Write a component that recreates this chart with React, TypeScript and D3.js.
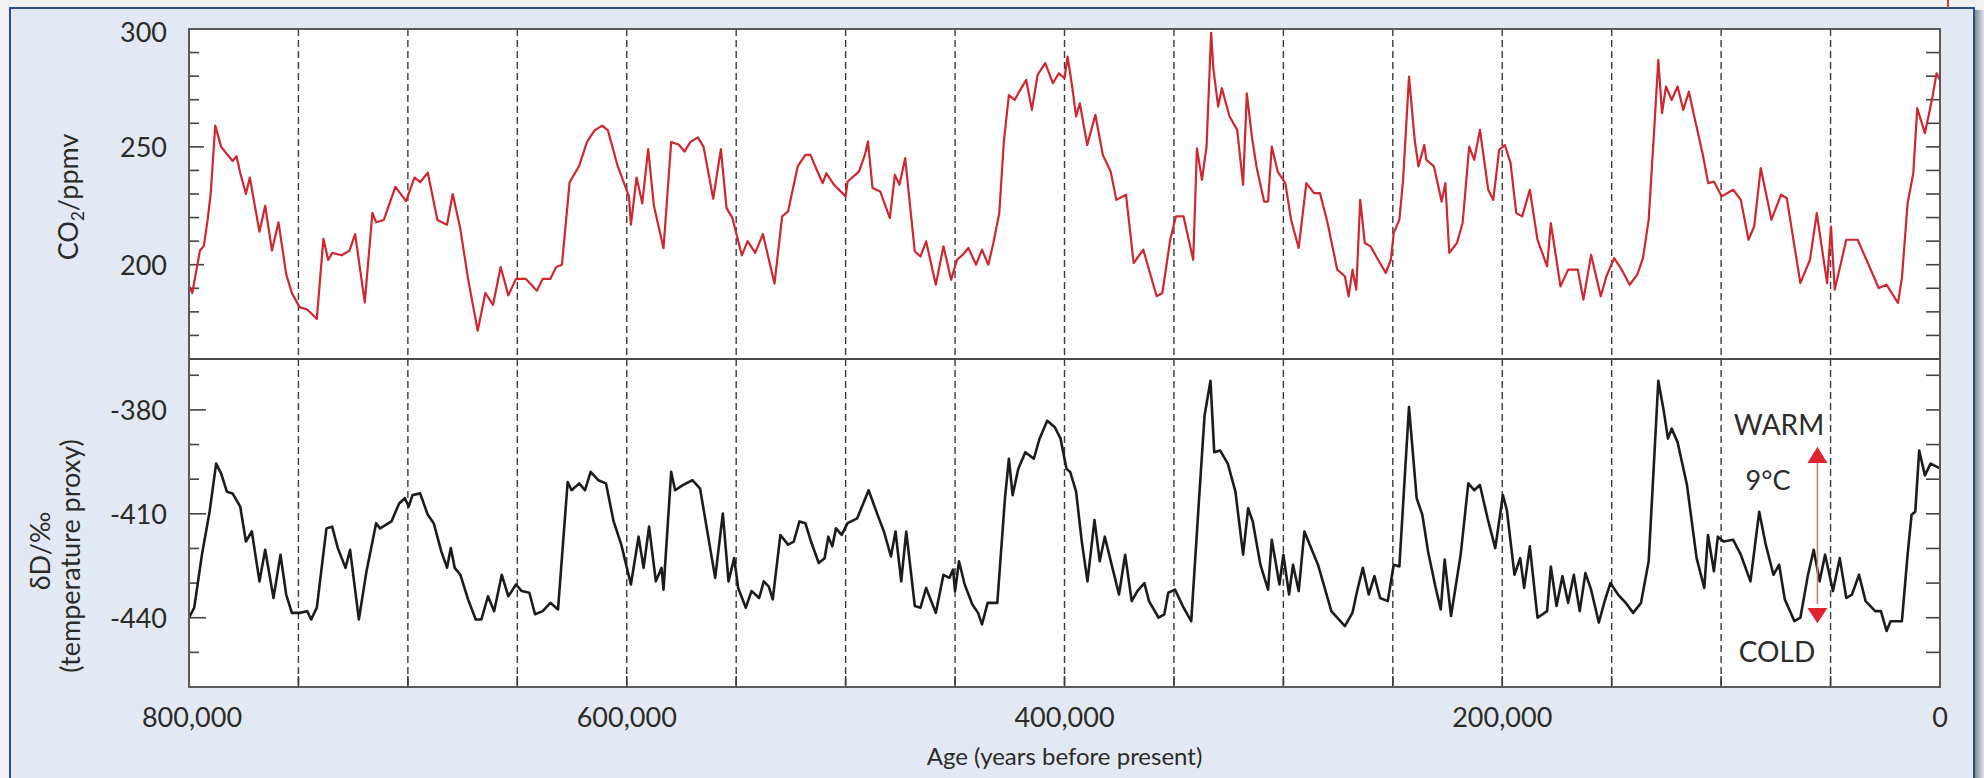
import React from 'react';
import * as d3 from 'd3';

// EPICA Dome C ice core: CO2 (ppmv) and deuterium (δD, ‰) over the last 800 kyr.
// Ages are in thousands of years before present.
const co2Series: [number, number][] = [
  [800, 191], [798.5, 188], [795, 206], [793.2, 208], [791.5, 219], [790.1, 230], [788, 259],
  [785.3, 250], [782.7, 247], [780.1, 244], [778.3, 246], [776.6, 239], [774, 230], [772.2, 237],
  [770.5, 228], [767.8, 214], [765.2, 225], [762.1, 206], [759.1, 218], [755.6, 196], [753, 188],
  [749.5, 182], [746, 181], [741.6, 177], [738.6, 211], [736.4, 202], [734.6, 205], [730.2, 204],
  [726.7, 206], [724.1, 213], [719.7, 184], [716.2, 222], [714.5, 218], [711, 219], [705.7, 233],
  [700.8, 227], [697, 237], [694.4, 235], [690.9, 239], [686.5, 219], [682.1, 217], [679.5, 230],
  [676, 215], [672.5, 194], [668.1, 172], [664.6, 188], [661.1, 183], [657.6, 199], [654.1, 187],
  [650.6, 194], [646.2, 194], [641, 189], [638.4, 194], [634.9, 194], [632.2, 199], [629.6, 200],
  [626.1, 235], [621.7, 242], [618.2, 252], [614.7, 257], [611.2, 259], [608.6, 257], [604.2, 242],
  [599, 229], [598.1, 217], [595.5, 237], [592.9, 226], [590.2, 249], [587.6, 225], [583.2, 207],
  [579.7, 252], [576.3, 251], [573.6, 248], [571, 252], [567.5, 254], [564.9, 250], [560.5, 228],
  [557, 249], [554.4, 224], [551.8, 220], [547.4, 204], [544.8, 210], [541.3, 205], [537.8, 213],
  [532.5, 192], [529, 220.5], [526.3, 222.6], [521.9, 241.7], [518.4, 246.6], [516.1, 246.6],
  [513.2, 240.3], [510.5, 234.6], [508.8, 238.8], [505.3, 233.9], [500, 229], [499.1, 235.3],
  [493.9, 239.5], [491.2, 246.6], [489.8, 252.3], [487.7, 232.5], [484.2, 231.1], [479.8, 219.8],
  [477.5, 238.1], [475.4, 233.9], [472.8, 245.2], [468.4, 205.6], [465.8, 203.5], [463.2, 209.9],
  [458.8, 191.5], [455.3, 207.8], [451.8, 193.6], [449.1, 202.1], [446.5, 204.2], [443.9, 207.1],
  [440.4, 200], [437.7, 206.4], [434.8, 200], [432.5, 209.2], [429.8, 221.9], [427.7, 252.3],
  [425.4, 272], [422.8, 269.9], [420.2, 274.2], [417.5, 278.4], [414.9, 265.7], [412.3, 280.5],
  [408.8, 285.5], [405.3, 277], [402.6, 281.2], [400, 279.1], [398.6, 288.3], [396.5, 275.6],
  [394.7, 262.9], [393, 268.5], [389.6, 250.8], [385.9, 263.6], [382.5, 246.6], [378.9, 239.5],
  [376.3, 227.5], [371.9, 229.7], [368.4, 200.7], [364, 206.4], [357.9, 186.6], [355.3, 188],
  [351.7, 210.6], [349.1, 220.5], [345.6, 220.5], [341.2, 202.1], [339.5, 249.4], [337.2, 236],
  [335.1, 250.1], [333, 298.4], [332, 283.3], [329.8, 267.1], [328.1, 274.9], [324.6, 262.9],
  [321.1, 257.2], [318.4, 233.9], [316.7, 272.7], [314.4, 254.4], [312.3, 241.7], [308.8, 226.8],
  [307, 226.8], [305.3, 250.1], [302.6, 239.5], [299.1, 234.6], [296.5, 219.1], [293, 207.1],
  [289.5, 234.6], [286, 230.4], [283.3, 230.4], [279.8, 217.7], [275.4, 197.9], [271.9, 195.1],
  [270.2, 186.6], [268.4, 197.9], [266.7, 189.4], [264.9, 227.5], [262.8, 209.2], [260.2, 207.8],
  [256.7, 202.1], [253.2, 196.5], [250.9, 202.1], [249.6, 213.4], [247, 219.1], [245.3, 236],
  [242.6, 279.8], [240, 253], [238.3, 241.7], [235.6, 250.8], [234.7, 244.5], [231.2, 241.7],
  [227.7, 226.8], [226, 234.6], [224.2, 205], [220.7, 209.2], [218.1, 217.7], [215.1, 250.1],
  [212.8, 244.5], [210.2, 257.2], [208.5, 245.9], [206.4, 231.8], [204.1, 227.5], [201.4, 248.7],
  [198.8, 250.8], [196.2, 243.1], [193.6, 221.9], [190.9, 220.5], [187.4, 231.8], [183.9, 210.6],
  [179.5, 199.3], [177.8, 217.7], [173.4, 190.8], [169.9, 197.9], [165.5, 197.9], [162.9, 185.2],
  [159.4, 204.2], [155, 186.6], [152.4, 195.1], [148.9, 202.8], [145.4, 197.9], [141.8, 191.5],
  [138.3, 195.8], [135.7, 202.8], [133.1, 219.1], [130.5, 258.6], [128.7, 286.9], [127, 264.3],
  [125.2, 275.6], [122.6, 269.9], [119.9, 275.6], [117.3, 265.7], [114.7, 273.4], [112.1, 262.1],
  [108.5, 247.3], [105.9, 234.6], [103.3, 235.3], [99.8, 229], [94.5, 231.8], [91, 227.5],
  [87.5, 210.6], [84.9, 216.2], [81.9, 241], [77, 219.1], [72.6, 229.7], [70, 228.2], [63.8, 192.2],
  [59.4, 202.1], [56.3, 221.9], [51.6, 192.2], [49.8, 216.2], [48.1, 189.4], [42.8, 210.6],
  [37.6, 210.6], [28, 190.1], [24.4, 191.5], [19.2, 183.8], [17.4, 194.4], [14.8, 226.1],
  [12.2, 238.8], [10.4, 266.4], [6.9, 255.8], [3.4, 271.3], [1.6, 281.2], [0, 278.4],
];

const deuteriumSeries: [number, number][] = [
  [800, -440], [797.6, -437.1], [794.1, -421.8], [790.6, -409.4], [787.6, -395.5], [785.3, -398.4],
  [782.7, -403.6], [780.1, -404.1], [776.6, -407.9], [774, -418], [771.3, -415.1], [767.8, -429.5],
  [765.2, -420.4], [761.4, -434.3], [758.2, -421.8], [755.6, -433.3], [753, -438.6], [749.5, -438.6],
  [746, -438.1], [744.2, -440.5], [741.6, -437.1], [737.2, -414.2], [734.6, -413.7], [732, -419.9],
  [728.5, -425.6], [726.4, -420.4], [722.4, -440.5], [718.9, -426.6], [714.5, -412.7], [712.7, -414.2],
  [707.5, -412.2], [704, -407], [701.4, -405.5], [699.6, -407.9], [697.9, -404.6], [694.4, -404.1],
  [690.9, -410.3], [688.2, -412.7], [684.7, -420.9], [682.1, -425.6], [680.4, -419.9], [678.6, -425.6],
  [676, -427.6], [672.5, -434.7], [669, -440.5], [666.4, -440.5], [663.4, -433.8], [660.6, -438.1],
  [657.1, -427.6], [654.1, -433.8], [650.6, -430.4], [648, -432.3], [644.5, -432.8], [641.9, -439],
  [638.4, -438.1], [634.9, -435.7], [631.4, -437.6], [627, -400.8], [625.2, -403.2], [621.7, -401.2],
  [619.1, -403.2], [616.5, -397.9], [613, -400.3], [609.5, -401.2], [606, -412.2], [602.5, -418.9],
  [598.1, -430.4], [594.6, -416.6], [592.3, -425.6], [589.8, -413.7], [586.7, -429.5], [584.1, -425.6],
  [583.2, -431.9], [579.7, -397.9], [577.9, -403.2], [574.4, -401.7], [570, -400.3], [566.5, -402.7],
  [559.6, -428.5], [556.1, -409.9], [553.5, -429.5], [550.9, -422.8], [549.1, -431.4], [545.6, -437.1],
  [543, -432.3], [539.5, -434.3], [537.4, -429.5], [535.1, -431], [533.3, -434.7], [529.8, -416.1],
  [526.3, -418.9], [523.7, -418], [521.1, -412.2], [518.4, -412.7], [515.8, -418], [512.3, -424.2],
  [509.6, -422.8], [507.9, -416.6], [506.1, -419.4], [504.4, -414.2], [501.8, -416.1], [499.1, -412.7],
  [494.7, -411.3], [489.5, -403.2], [485.1, -410.8], [482.5, -415.1], [479.3, -422.3], [477.2, -415.1],
  [474.6, -429.5], [472.3, -415.1], [468.4, -436.6], [465.8, -437.1], [463.2, -431.4], [458.8, -438.6],
  [455.3, -427.6], [452.6, -428.5], [450.9, -426.1], [450, -432.3], [448.2, -423.7], [445.6, -430.4],
  [442.1, -436.2], [439.5, -438.6], [437.7, -441.9], [435.1, -435.7], [430.7, -435.7], [427.2, -405.5],
  [425.4, -394.1], [423.7, -404.6], [421.1, -397], [417.9, -392.2], [414, -394.1], [411.4, -388.3],
  [407.9, -383.1], [404.4, -385], [401.8, -388.3], [399.1, -397], [397.4, -397.9], [394.7, -403.6],
  [392.1, -418], [389.5, -429.5], [386.3, -411.8], [383.9, -423.7], [381.6, -416.6], [378.1, -425.6],
  [375.1, -433.3], [372.3, -421.8], [369.3, -435.2], [366.7, -432.3], [363.5, -430], [361.4, -435.2],
  [357, -440], [354.4, -439], [352.6, -432.8], [349.5, -431.9], [345.6, -437.1], [342.1, -441],
  [338.6, -406.5], [336, -381.6], [333.3, -371.6], [331.6, -392.2], [328.9, -391.7], [325.4, -395.5],
  [321.9, -403.6], [318.4, -421.8], [316.1, -408.4], [314, -412.2], [310.5, -424.7], [307, -431.9],
  [305.3, -417.5], [301.8, -430.4], [300, -421.8], [297.4, -433.3], [295.6, -424.7], [293, -432.3],
  [290.4, -415.1], [284.2, -424.7], [280.7, -432.3], [278.1, -438.1], [271.9, -442.4], [268.4, -438.5],
  [266.3, -432.3], [263.7, -425.6], [261, -433.3], [258.4, -428], [255.8, -434.3], [252.3, -435.2],
  [249.6, -424.7], [247, -425.2], [244.4, -397.9], [242.6, -379.2], [239.1, -405.5], [236.5, -410.3],
  [233.9, -420.9], [230.4, -431.4], [228.1, -437.6], [226.3, -423.2], [223.4, -439.5], [219, -421.8],
  [215.5, -401.2], [212.8, -403.2], [210.2, -401.7], [206.7, -411.3], [203.2, -419.9], [199.7, -404.6],
  [197.9, -408.9], [194.4, -427.6], [191.8, -422.8], [190, -431.4], [187.4, -419.4], [183.9, -440],
  [179.5, -438.1], [177.8, -425.2], [175.2, -436.6], [172.5, -428], [169.9, -435.7], [167.3, -427.6],
  [164.6, -438.1], [162, -427.1], [159.4, -431.9], [155.9, -441.4], [153.2, -435.2], [150.6, -430],
  [147.1, -433.3], [143.6, -435.7], [140.2, -438.6], [136.6, -435.7], [133.1, -423.7], [130.5, -393.1],
  [128.7, -371.6], [126.1, -380.7], [124.3, -388.3], [122.6, -385.4], [119.9, -389.3], [115.6, -401.7],
  [111.2, -422.8], [107.7, -431.4], [106, -416.1], [103.3, -426.6], [101.5, -416.6], [98.9, -418],
  [94.5, -417.5], [91, -421.8], [86.6, -429.5], [82.6, -409.4], [79.6, -418.9], [76.1, -427.6],
  [73.5, -424.7], [70.9, -434.7], [66.5, -441], [63.8, -440], [60.3, -427.6], [57.7, -420.4],
  [55, -429.5], [52.5, -421.8], [48.9, -432.3], [45.8, -422.8], [42.8, -434.3], [40.2, -433.3],
  [37, -427.6], [34, -435.2], [29.6, -438.1], [27, -438.1], [24.4, -443.8], [22.6, -441], [17.4, -441],
  [14.8, -421.8], [13, -410.3], [11.3, -409.4], [9.5, -391.7], [6.9, -398.9], [4.3, -395.5], [0, -396.9],
];

// Axis ticks and labels
const ageLabelTicks = [800, 600, 400, 200, 0];
const ageGuideTicks = [750, 700, 650, 600, 550, 500, 450, 400, 350, 300, 250, 200, 150, 100, 50];
const co2LabelTicks = [200, 250, 300];
const co2MinorTicks = [170, 180, 190, 200, 210, 220, 230, 240, 250, 260, 270, 280, 290];
const dDLabelTicks = [-440, -410, -380];
const dDMinorTicks = [-450, -440, -430, -420, -410, -400, -390, -380, -370];

// Temperature-range annotation (age in kyr, δD span of the arrow)
const rangeAge = 56;

const W = 1984;
const H = 778;
const PX0 = 189;
const PX1 = 1940;
const PY0 = 29;
const PMID = 359;
const PY1 = 687;

const FONT = "Lato, 'Open Sans', sans-serif";
const TEXT = '#2b2b2b';

export default function App() {
  const x = d3.scaleLinear().domain([800, 0]).range([PX0, PX1]);
  const yC = d3.scaleLinear().domain([160, 300]).range([PMID, PY0]);
  const yD = d3.scaleLinear().domain([-460, -365.3]).range([PY1, PMID]);

  const co2Line = d3
    .line<[number, number]>()
    .x((d) => x(d[0]))
    .y((d) => yC(d[1]));
  const dDLine = d3
    .line<[number, number]>()
    .x((d) => x(d[0]))
    .y((d) => yD(d[1]));

  const fmt = d3.format(',');
  const ax = x(rangeAge);

  return (
    <svg
      width={W}
      height={H}
      viewBox={`0 0 ${W} ${H}`}
      style={{ position: 'absolute', left: 0, top: 0, display: 'block' }}
    >
      <defs>
        <linearGradient id="edgeShadow" x1="0" x2="1" y1="0" y2="0">
          <stop offset="0" stopColor="#7f8a9b" />
          <stop offset="1" stopColor="#e2e4e8" />
        </linearGradient>
        <clipPath id="clipTop">
          <rect x={PX0} y={PY0} width={PX1 - PX0} height={PMID - PY0} />
        </clipPath>
        <clipPath id="clipBottom">
          <rect x={PX0} y={PMID} width={PX1 - PX0} height={PY1 - PMID} />
        </clipPath>
      </defs>

      {/* page and framed card */}
      <rect x={0} y={0} width={W} height={H} fill="#f1f1f2" />
      <rect x={1975} y={10} width={9} height={H} fill="url(#edgeShadow)" />
      <rect x={10} y={8} width={1964} height={H} fill="#e3e9f2" stroke="#2c4f80" strokeWidth={2} />
      <line x1={1948} x2={1948} y1={0} y2={8} stroke="#e03a3a" strokeWidth={2} />

      {/* plot panels */}
      <rect x={PX0} y={PY0} width={PX1 - PX0} height={PY1 - PY0} fill="#ffffff" />

      {/* 50 kyr guide lines */}
      {ageGuideTicks.map((a) => (
        <g key={`g${a}`}>
          <line
            x1={x(a)}
            x2={x(a)}
            y1={PY0}
            y2={PY1}
            stroke="#3a3a3a"
            strokeWidth={1.4}
            strokeDasharray="7,4"
          />
          <line x1={x(a)} x2={x(a)} y1={PY1 - 11} y2={PY1} stroke="#3a3a3a" strokeWidth={1.6} />
        </g>
      ))}

      {/* CO2 ticks (both sides) */}
      {co2MinorTicks.map((v) => {
        const len = co2LabelTicks.includes(v) ? 15 : 10;
        return (
          <g key={`c${v}`} stroke="#444" strokeWidth={1.6}>
            <line x1={PX0} x2={PX0 + len} y1={yC(v)} y2={yC(v)} />
            <line x1={PX1} x2={PX1 - 14} y1={yC(v)} y2={yC(v)} />
          </g>
        );
      })}
      {/* δD ticks (both sides) */}
      {dDMinorTicks.map((v) => {
        const len = dDLabelTicks.includes(v) ? 17 : 10;
        return (
          <g key={`d${v}`} stroke="#444" strokeWidth={1.6}>
            <line x1={PX0} x2={PX0 + len} y1={yD(v)} y2={yD(v)} />
            <line x1={PX1} x2={PX1 - 14} y1={yD(v)} y2={yD(v)} />
          </g>
        );
      })}

      {/* data */}
      <path
        d={co2Line(co2Series) ?? ''}
        fill="none"
        stroke="#cf2630"
        strokeWidth={2.2}
        strokeLinejoin="round"
        clipPath="url(#clipTop)"
      />
      <path
        d={dDLine(deuteriumSeries) ?? ''}
        fill="none"
        stroke="#1c1c1c"
        strokeWidth={2.6}
        strokeLinejoin="round"
        clipPath="url(#clipBottom)"
      />

      {/* panel borders */}
      <rect
        x={PX0}
        y={PY0}
        width={PX1 - PX0}
        height={PY1 - PY0}
        fill="none"
        stroke="#5a5a5a"
        strokeWidth={2}
      />
      <line x1={PX0} x2={PX1} y1={PMID} y2={PMID} stroke="#4a4a4a" strokeWidth={2} />

      {/* 9°C range annotation */}
      <g>
        <line x1={ax} x2={ax} y1={yD(-392)} y2={yD(-436)} stroke="#d77a7a" strokeWidth={1.6} />
        <path
          d={`M${ax},${yD(-390.6)} L${ax - 10},${yD(-395.3)} L${ax + 10},${yD(-395.3)} Z`}
          fill="#e0232c"
        />
        <path
          d={`M${ax},${yD(-441.6)} L${ax - 10},${yD(-437.2)} L${ax + 10},${yD(-437.2)} Z`}
          fill="#e0232c"
        />
        <text x={1779} y={435} fontFamily={FONT} fontSize={28} fill={TEXT} textAnchor="middle">
          WARM
        </text>
        <text x={1768} y={490} fontFamily={FONT} fontSize={27} fill={TEXT} textAnchor="middle">
          9°C
        </text>
        <text x={1777} y={662} fontFamily={FONT} fontSize={28} fill={TEXT} textAnchor="middle">
          COLD
        </text>
      </g>

      {/* y tick labels */}
      {co2LabelTicks.map((v) => (
        <text
          key={`cl${v}`}
          x={167}
          y={yC(v) + (v === 300 ? 13 : 10)}
          fontFamily={FONT}
          fontSize={27}
          fill={TEXT}
          textAnchor="end"
        >
          {v}
        </text>
      ))}
      {dDLabelTicks.map((v) => (
        <text
          key={`dl${v}`}
          x={167}
          y={yD(v) + 10}
          fontFamily={FONT}
          fontSize={27}
          fill={TEXT}
          textAnchor="end"
        >
          {v}
        </text>
      ))}

      {/* age tick labels */}
      {ageLabelTicks.map((a) => (
        <text
          key={`al${a}`}
          x={x(a) + (a === 800 ? 3 : 0)}
          y={727}
          fontFamily={FONT}
          fontSize={27}
          fill={TEXT}
          textAnchor="middle"
        >
          {fmt(a * 1000)}
        </text>
      ))}

      {/* axis titles */}
      <text
        x={(PX0 + PX1) / 2}
        y={765}
        fontFamily={FONT}
        fontSize={24}
        fill={TEXT}
        textAnchor="middle"
      >
        Age (years before present)
      </text>
      <text
        transform="translate(78,197) rotate(-90)"
        fontFamily={FONT}
        fontSize={27}
        fill={TEXT}
        textAnchor="middle"
      >
        CO
        <tspan fontSize={17} dy={6}>
          2
        </tspan>
        <tspan dy={-6}>/ppmv</tspan>
      </text>
      <text
        transform="translate(50,551) rotate(-90)"
        fontFamily={FONT}
        fontSize={27}
        fill={TEXT}
        textAnchor="middle"
      >
        δD/‰
      </text>
      <text
        transform="translate(80,556) rotate(-90)"
        fontFamily={FONT}
        fontSize={27}
        fill={TEXT}
        textAnchor="middle"
      >
        (temperature proxy)
      </text>
    </svg>
  );
}
